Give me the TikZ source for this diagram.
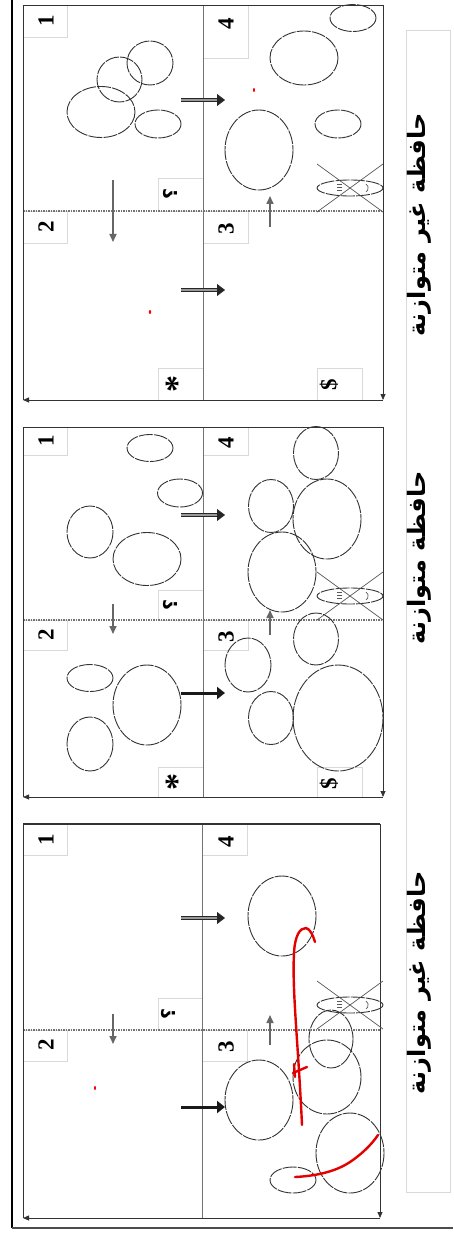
\documentclass[tikz,border=0pt]{standalone}
\usepackage{fontspec}
\setmainfont{Liberation Serif}
\newfontfamily\arabicfont[Script=Arabic]{DejaVu Sans}
\TeXXeTstate=1
\usetikzlibrary{arrows.meta}
\tikzset{
  frame/.style={draw=black!80, line width=0.8pt},
  axisarrow/.style={frame, -{Triangle[length=6pt,width=5pt]}},
  midline/.style={draw=black!55, line width=0.6pt},
  dotline/.style={draw=black!55, line width=1.4pt, dash pattern=on 1.5pt off 1pt},
  lbox/.style={draw=black!15, line width=0.6pt},
  lbl/.style={rotate=90, font=\bfseries\fontsize{23}{23}\selectfont, inner sep=0pt},
  starlbl/.style={rotate=90, font=\bfseries\fontsize{34}{34}\selectfont, inner sep=0pt},
  qlbl/.style={rotate=90, font=\arabicfont\bfseries\fontsize{19}{19}\selectfont, inner sep=0pt},
  bub/.style={draw=black!80, line width=0.9pt, dash pattern=on 14pt off 1.2pt},
  dblarrow/.style={draw=black!85, double=black!40, double distance=1.8pt, line width=0.8pt, -{Triangle[length=8pt,width=12pt]}},
  boldarrow/.style={draw=black!90, line width=3pt, -{Triangle[length=8pt,width=12pt]}},
  thinarrow/.style={draw=black!60, line width=1.6pt, -{Triangle[length=8pt,width=7pt]}},
  title/.style={rotate=90, font=\arabicfont\bfseries\fontsize{24}{26}\selectfont, inner sep=0pt},
  redmark/.style={draw=red!90!black, line width=2.4pt, line cap=round, line join=round},
  dog/.pic={
    \draw[bub] (0,0) ellipse (33 and 8);
    \draw[draw=black!65, line width=0.7pt] (-33,-24) -- (33,24) (-33,24) -- (33,-24);
    \draw[draw=black!65, line width=0.9pt] (-13,-4) -- (-8,-4) (-13,-1) -- (-8,-1) (-13,2) -- (-8,2);
    \draw[draw=black!65, line width=0.7pt] (16,-4) arc (-60:60:4.5);
  }
}
\begin{document}
\begin{tikzpicture}[x=1pt,y=-1pt]
\useasboundingbox (0,0) rectangle (453,1238);
\fill[white] (0,0) rectangle (453,1238);

% outer frame
\draw[black, line width=2.6pt] (12,0) -- (12,1228);
\draw[black!70, line width=2pt] (12,1228) -- (453,1228);

% title strip
\draw[lbox] (406,30) rectangle (450,1192);
\node[title] (t1) at (419,225) {\beginR حافظة غير متوازنة\endR};
\node[title] (t2) at (419,558) {\beginR حافظة متوازنة\endR};
\node[title] (t3) at (419,983) {\beginR حافظة غير متوازنة\endR};

%================ PANEL 1 ================
\draw[lbox] (23,5) rectangle (67,37);
\draw[lbox] (203,5) rectangle (248,58);
\draw[lbox] (23,211) rectangle (67,243);
\draw[lbox] (203,211) rectangle (248,243);
\draw[lbox] (158,178) rectangle (203,211);
\draw[lbox] (158,368) rectangle (203,400);
\draw[lbox] (317,368) rectangle (362,400);
\draw[midline] (203,5) -- (203,400);
\draw[dotline] (23,211) -- (383,211);
\draw[frame] (23,5) -- (383,5);
\draw[frame] (23,5) -- (23,400);
\coordinate (p1br) at (383,400);
\coordinate (p1bl) at (23,400);
\coordinate (p1tr) at (383,5);
\draw[axisarrow] (p1br) -- (p1bl);
\draw[axisarrow] (p1tr) -- (p1br);
\node[lbl] (p1n1) at (46,21) {1};
\node[lbl] (p1n4) at (226,24) {4};
\node[lbl] (p1n2) at (46,227) {2};
\node[lbl] (p1n3) at (226,229) {3};
\node[qlbl] (p1q) at (170,194) {؟};
\node[starlbl] (p1s) at (177,384) {*};
\node[lbl] (p1d) at (329,385) {\$};
\draw[bub] (101,112) ellipse (34 and 25.5);
\draw[bub] (119.5,79.5) ellipse (22.5 and 22.5);
\draw[bub] (150,63) ellipse (23 and 22);
\draw[bub] (158,124) ellipse (23 and 14);
\draw[bub] (353,18) ellipse (23 and 13.5);
\draw[bub] (304,58) ellipse (34 and 27);
\draw[bub] (338,124) ellipse (23 and 14);
\draw[bub] (259,150) ellipse (34 and 40);
\pic at (350,188) {dog};
\coordinate (p1a1s) at (181,100); \coordinate (p1a1e) at (225,100);
\coordinate (p1a2s) at (181,290); \coordinate (p1a2e) at (225,290);
\coordinate (p1a3s) at (113,180); \coordinate (p1a3e) at (113,242);
\coordinate (p1a4s) at (270,227); \coordinate (p1a4e) at (270,196);
\draw[dblarrow] (p1a1s) -- (p1a1e);
\draw[dblarrow] (p1a2s) -- (p1a2e);
\draw[thinarrow] (p1a3s) -- (p1a3e);
\draw[thinarrow] (p1a4s) -- (p1a4e);
\fill[red] (254,90) ellipse (1 and 2);
\fill[red] (150,312) ellipse (1.2 and 2);

%================ PANEL 2 ================
\draw[lbox] (23,427) rectangle (67,455);
\draw[lbox] (203,427) rectangle (248,455);
\draw[lbox] (23,620) rectangle (67,650);
\draw[lbox] (203,620) rectangle (248,650);
\draw[lbox] (158,590) rectangle (203,620);
\draw[lbox] (158,767) rectangle (203,797);
\draw[lbox] (317,767) rectangle (362,797);
\draw[midline] (203,427) -- (203,797);
\draw[dotline] (23,620) -- (383,620);
\draw[frame] (23,427) -- (383,427);
\draw[frame] (23,427) -- (23,797);
\coordinate (p2br) at (383,797);
\coordinate (p2bl) at (23,797);
\coordinate (p2tr) at (383,427);
\draw[axisarrow] (p2br) -- (p2bl);
\draw[axisarrow] (p2tr) -- (p2br);
\node[lbl] (p2n1) at (46,441) {1};
\node[lbl] (p2n4) at (226,443) {4};
\node[lbl] (p2n2) at (46,635) {2};
\node[lbl] (p2n3) at (226,637) {3};
\node[qlbl] (p2q) at (170,605) {؟};
\node[starlbl] (p2s) at (177,782) {*};
\node[lbl] (p2d) at (329,784) {\$};
\draw[bub] (150,448) ellipse (23 and 13.5);
\draw[bub] (180,493) ellipse (22.5 and 14);
\draw[bub] (90,532) ellipse (23 and 26);
\draw[bub] (147,559) ellipse (34 and 26.5);
\draw[bub] (90,678) ellipse (23 and 13.5);
\draw[bub] (147,705) ellipse (34 and 40);
\draw[bub] (90,744) ellipse (23 and 27);
\draw[bub] (316,453) ellipse (22.5 and 26.5);
\draw[bub] (271,506) ellipse (22.5 and 26.5);
\draw[bub] (327,519) ellipse (34 and 40);
\draw[bub] (282,572) ellipse (34 and 40);
\pic at (350,596) {dog};
\draw[bub] (316,639) ellipse (22.5 and 26);
\draw[bub] (248,665) ellipse (23 and 27);
\draw[bub] (271,718) ellipse (22.5 and 26.5);
\draw[bub] (338,718) ellipse (45 and 53);
\coordinate (p2a1s) at (181,515); \coordinate (p2a1e) at (225,515);
\coordinate (p2a2s) at (181,693); \coordinate (p2a2e) at (225,693);
\coordinate (p2a3s) at (113,604); \coordinate (p2a3e) at (113,634);
\coordinate (p2a4s) at (270,635); \coordinate (p2a4e) at (270,610);
\draw[dblarrow] (p2a1s) -- (p2a1e);
\draw[boldarrow] (p2a2s) -- (p2a2e);
\draw[thinarrow] (p2a3s) -- (p2a3e);
\draw[thinarrow] (p2a4s) -- (p2a4e);

%================ PANEL 3 ================
\draw[lbox] (23,824) rectangle (67,855);
\draw[lbox] (202,824) rectangle (247,855);
\draw[lbox] (23,1030) rectangle (67,1061);
\draw[lbox] (202,1030) rectangle (247,1061);
\draw[lbox] (158,998) rectangle (202,1030);
\draw[midline] (202,824) -- (202,1218);
\draw[dotline] (23,1030) -- (380,1030);
\draw[frame, line width=1.1pt] (23,824) -- (380,824);
\draw[frame] (23,824) -- (23,1218);
\coordinate (p3br) at (380,1218);
\coordinate (p3bl) at (23,1218);
\coordinate (p3tr) at (380,824);
\draw[axisarrow] (p3br) -- (p3bl);
\draw[axisarrow] (p3tr) -- (p3br);
\node[lbl] (p3n1) at (46,840) {1};
\node[lbl] (p3n4) at (226,842) {4};
\node[lbl] (p3n2) at (46,1045) {2};
\node[lbl] (p3n3) at (226,1047) {3};
\node[qlbl] (p3q) at (168,1014) {؟};
\draw[bub] (282,916) ellipse (34 and 40);
\pic at (350,1005) {dog};
\draw[bub] (331,1039) ellipse (22 and 29);
\draw[bub] (327,1077) ellipse (34 and 37);
\draw[bub] (259,1100) ellipse (34 and 40);
\draw[bub] (350,1153) ellipse (34 and 40);
\draw[bub] (293,1180) ellipse (23 and 13);
\coordinate (p3a1s) at (181,918); \coordinate (p3a1e) at (225,918);
\coordinate (p3a2s) at (181,1107); \coordinate (p3a2e) at (225,1107);
\coordinate (p3a3s) at (113,1014); \coordinate (p3a3e) at (113,1044);
\coordinate (p3a4s) at (270,1045); \coordinate (p3a4e) at (270,1015);
\draw[dblarrow] (p3a1s) -- (p3a1e);
\draw[boldarrow] (p3a2s) -- (p3a2e);
\draw[thinarrow] (p3a3s) -- (p3a3e);
\draw[thinarrow] (p3a4s) -- (p3a4e);
% red hand marks
\fill[red] (95,1088) ellipse (1 and 2);
\draw[redmark] (302,1125) .. controls (298,1040) and (292,990) .. (294,953)
  .. controls (295,935) and (300,928) .. (306,928) .. controls (310,929) and (313,935) .. (315,942);
\draw[redmark] (293,1073) -- (307,1067);
\draw[redmark] (294,1064) -- (295,1077);
\draw[redmark] (295,1177) .. controls (315,1176) and (335,1172) .. (350,1162) .. controls (362,1154) and (372,1144) .. (378,1135);
\end{tikzpicture}
\end{document}
